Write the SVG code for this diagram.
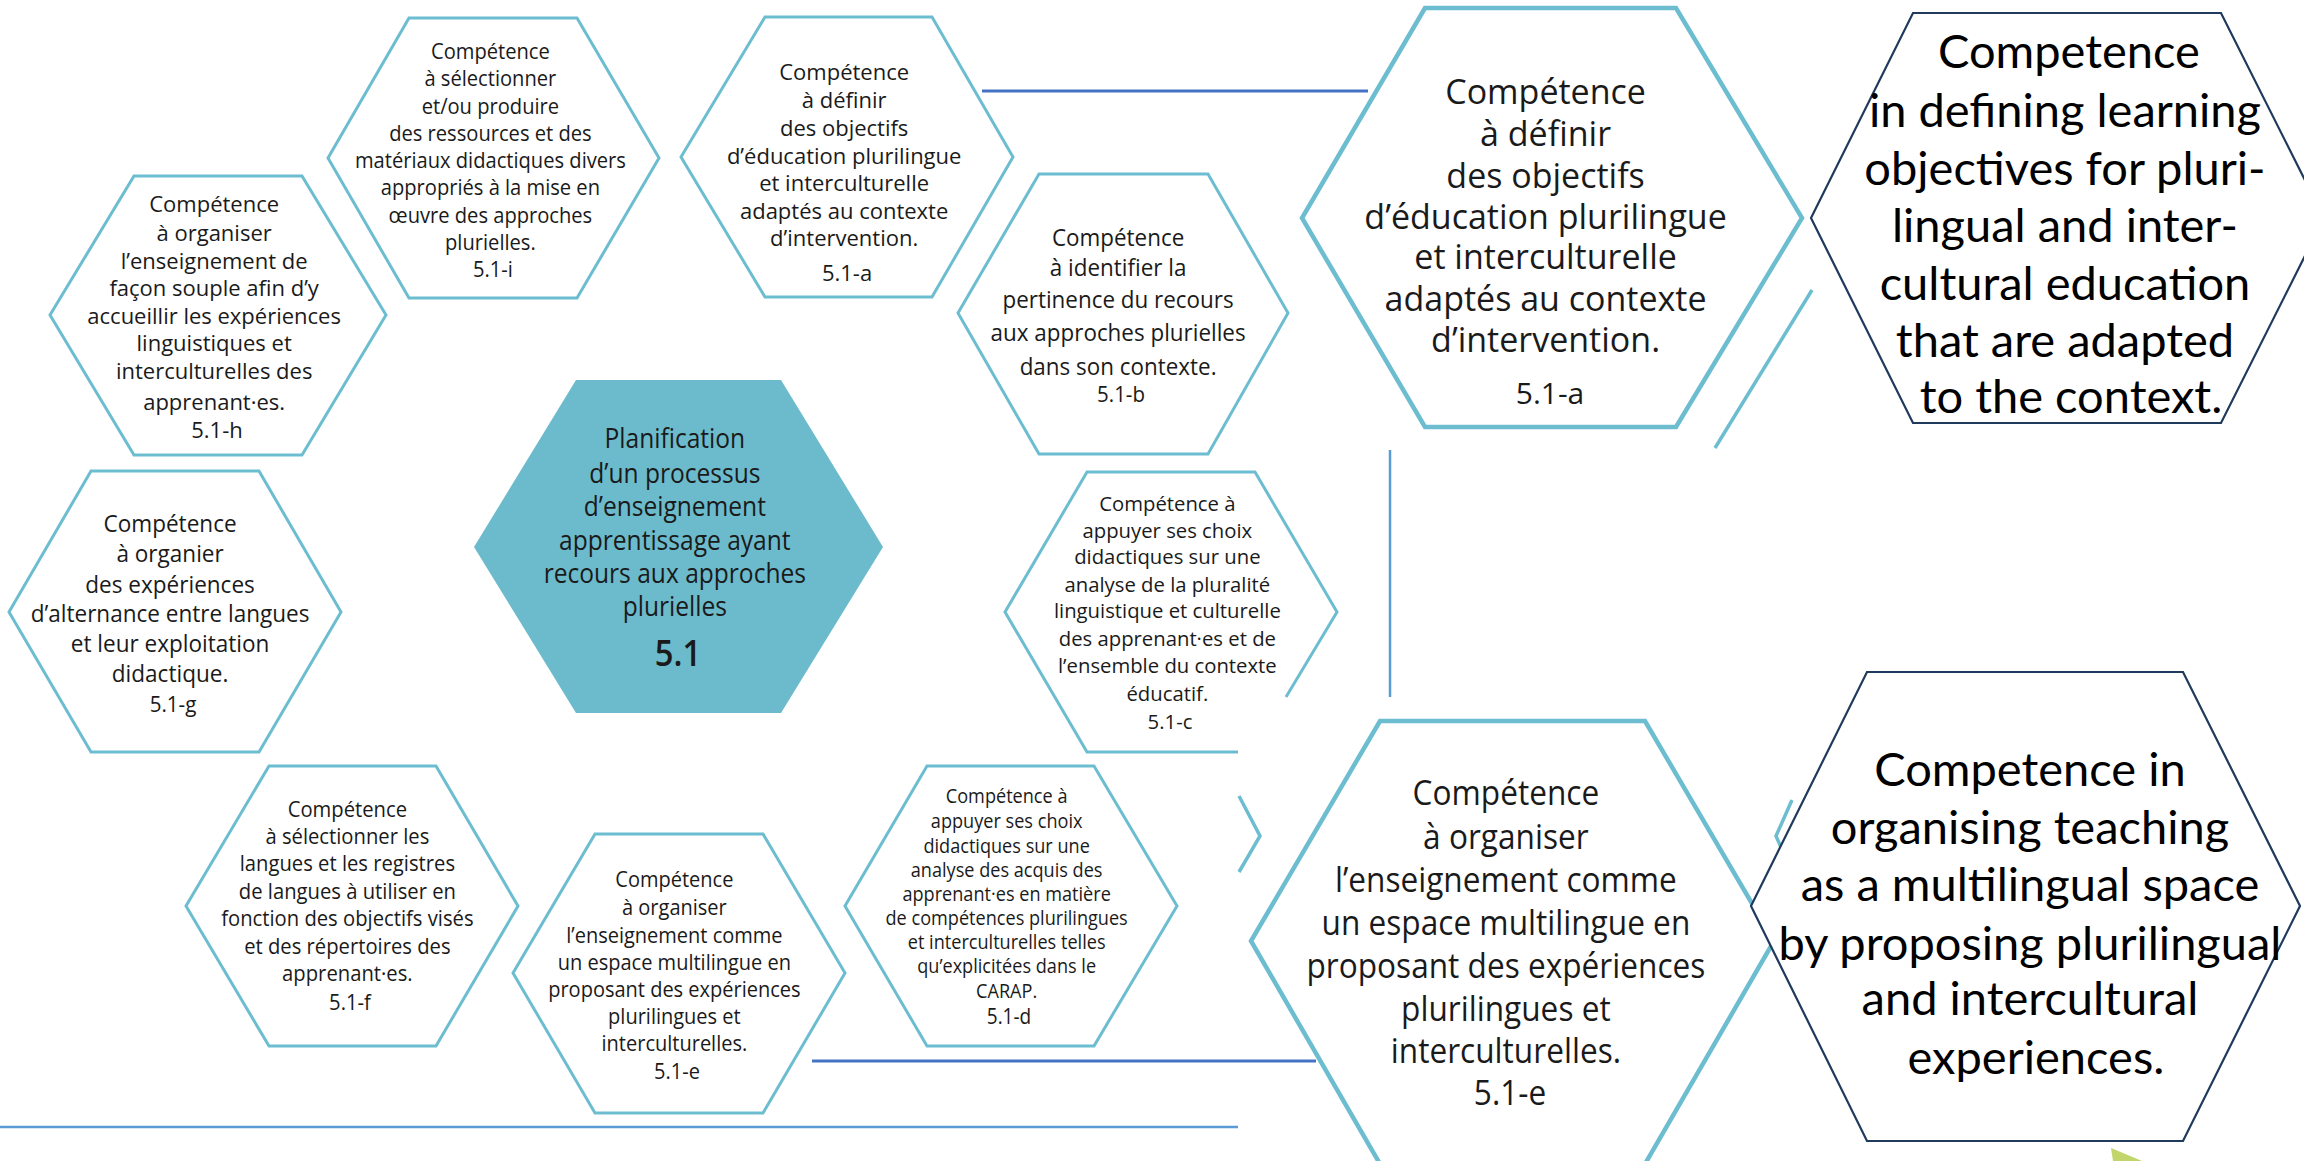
<svg xmlns="http://www.w3.org/2000/svg" width="2304" height="1161" viewBox="0 0 2304 1161">
<style>
.hex{fill:#ffffff;stroke:#6dbdd1;stroke-width:3;stroke-linejoin:miter}
.big{fill:#ffffff;stroke:#6dbdd1;stroke-width:4.5}
.core{fill:#6cbbcc;stroke:none}
.en{fill:#ffffff;stroke:#1f3a5c;stroke-width:2.2}
.frag{fill:none;stroke:#6dbdd1;stroke-width:3.5}
.fr{font-family:"Open Sans","Noto Sans","DejaVu Sans",sans-serif;fill:#1a1a1a;text-anchor:middle}
.eng{font-family:Lato,"Open Sans",sans-serif;fill:#000000;text-anchor:middle;font-size:47px}
.c1{stroke:#4472c4;stroke-width:3;fill:none}
.c2{stroke:#5b9bd5;stroke-width:2.5;fill:none}
</style>
<rect width="2304" height="1161" fill="#ffffff"/>

<g id="connectors">
<line class="c1" x1="982" y1="91" x2="1368" y2="91"/>
<line class="c2" x1="1390" y1="450" x2="1390" y2="697"/>
<line class="c1" x1="812" y1="1061" x2="1316" y2="1061"/>
<line class="c2" x1="0" y1="1127" x2="1238" y2="1127" stroke-width="3"/>
</g>

<g id="node-5-1-i">
<polygon class="hex" points="409,18 577,18 659,158 577,298 409,298 328,158"/>
<g transform="translate(493,0) scale(0.915,1)"><text class="fr" font-size="22">
<tspan x="0" y="59">Compétence</tspan>
<tspan x="0" y="86.3">à sélectionner</tspan>
<tspan x="0" y="113.6">et/ou produire</tspan>
<tspan x="0" y="140.9">des ressources et des</tspan>
<tspan x="0" y="168.2">matériaux didactiques divers</tspan>
<tspan x="0" y="195.5">appropriés à la mise en</tspan>
<tspan x="0" y="222.8">œuvre des approches</tspan>
<tspan x="0" y="250.1">plurielles.</tspan>
<tspan x="0" y="277.4">5.1-i</tspan>
</text></g>
</g>

<g id="node-5-1-a">
<polygon class="hex" points="765,17 932,17 1013,157 932,297 765,297 681,157"/>
<g transform="translate(847,0) scale(1.0,1)"><text class="fr" font-size="22">
<tspan x="0" y="80">Compétence</tspan>
<tspan x="0" y="108">à définir</tspan>
<tspan x="0" y="136">des objectifs</tspan>
<tspan x="0" y="164">d’éducation plurilingue</tspan>
<tspan x="0" y="191">et interculturelle</tspan>
<tspan x="0" y="219">adaptés au contexte</tspan>
<tspan x="0" y="246">d’intervention.</tspan>
<tspan x="0" y="281">5.1-a</tspan>
</text></g>
</g>

<g id="node-5-1-h">
<polygon class="hex" points="134,176 302,176 386,315 302,455 134,455 50,315"/>
<g transform="translate(217,0) scale(1.0,1)"><text class="fr" font-size="22">
<tspan x="0" y="212">Compétence</tspan>
<tspan x="0" y="241">à organiser</tspan>
<tspan x="0" y="269">l’enseignement de</tspan>
<tspan x="0" y="296">façon souple afin d’y</tspan>
<tspan x="0" y="324">accueillir les expériences</tspan>
<tspan x="0" y="351">linguistiques et</tspan>
<tspan x="0" y="379">interculturelles des</tspan>
<tspan x="0" y="410">apprenant·es.</tspan>
<tspan x="0" y="438">5.1-h</tspan>
</text></g>
</g>

<g id="node-5-1">
<polygon class="core" points="576,380 781,380 883,547 781,713 576,713 474,547"/>
<g transform="translate(678,0) scale(0.91,1)"><text class="fr" font-size="27">
<tspan x="0" y="448">Planification</tspan>
<tspan x="0" y="483">d’un processus</tspan>
<tspan x="0" y="516">d’enseignement</tspan>
<tspan x="0" y="550">apprentissage ayant</tspan>
<tspan x="0" y="583">recours aux approches</tspan>
<tspan x="0" y="616">plurielles</tspan>
<tspan x="0" y="666" font-size="36" font-weight="600">5.1</tspan>
</text></g>
</g>

<g id="node-5-1-g">
<polygon class="hex" points="91,471 259,471 341,612 259,752 91,752 9,612"/>
<g transform="translate(173,0) scale(0.98,1)"><text class="fr" font-size="23">
<tspan x="0" y="532">Compétence</tspan>
<tspan x="0" y="562">à organier</tspan>
<tspan x="0" y="593">des expériences</tspan>
<tspan x="0" y="622">d’alternance entre langues</tspan>
<tspan x="0" y="652">et leur exploitation</tspan>
<tspan x="0" y="682">didactique.</tspan>
<tspan x="0" y="712" font-size="21">5.1-g</tspan>
</text></g>
</g>

<g id="node-5-1-f">
<polygon class="hex" points="269,766 436,766 518,906 436,1046 269,1046 186,906"/>
<g transform="translate(350,0) scale(0.92,1)"><text class="fr" font-size="22">
<tspan x="0" y="817">Compétence</tspan>
<tspan x="0" y="844">à sélectionner les</tspan>
<tspan x="0" y="871">langues et les registres</tspan>
<tspan x="0" y="899">de langues à utiliser en</tspan>
<tspan x="0" y="926">fonction des objectifs visés</tspan>
<tspan x="0" y="954">et des répertoires des</tspan>
<tspan x="0" y="981">apprenant·es.</tspan>
<tspan x="0" y="1010">5.1-f</tspan>
</text></g>
</g>

<g id="node-5-1-e">
<polygon class="hex" points="595,834 763,834 845,973 763,1113 595,1113 513,973"/>
<g transform="translate(677,0) scale(0.91,1)"><text class="fr" font-size="22">
<tspan x="0" y="887">Compétence</tspan>
<tspan x="0" y="915">à organiser</tspan>
<tspan x="0" y="943">l’enseignement comme</tspan>
<tspan x="0" y="970">un espace multilingue en</tspan>
<tspan x="0" y="997">proposant des expériences</tspan>
<tspan x="0" y="1024">plurilingues et</tspan>
<tspan x="0" y="1051">interculturelles.</tspan>
<tspan x="0" y="1079">5.1-e</tspan>
</text></g>
</g>

<g id="node-5-1-d">
<polygon class="hex" points="927,766 1094,766 1177,906 1094,1046 927,1046 845,906"/>
<g transform="translate(1009,0) scale(0.906,1)"><text class="fr" font-size="20">
<tspan x="0" y="803">Compétence à</tspan>
<tspan x="0" y="828">appuyer ses choix</tspan>
<tspan x="0" y="853">didactiques sur une</tspan>
<tspan x="0" y="877">analyse des acquis des</tspan>
<tspan x="0" y="901">apprenant·es en matière</tspan>
<tspan x="0" y="925">de compétences plurilingues</tspan>
<tspan x="0" y="949">et interculturelles telles</tspan>
<tspan x="0" y="973">qu’explicitées dans le</tspan>
<tspan x="0" y="998">CARAP.</tspan>
<tspan x="0" y="1024" font-size="21">5.1-d</tspan>
</text></g>
</g>

<g id="node-5-1-b">
<polygon class="hex" points="1039,174 1208,174 1288,313 1208,454 1039,454 958,313"/>
<g transform="translate(1121,0) scale(0.975,1)"><text class="fr" font-size="23">
<tspan x="0" y="246">Compétence</tspan>
<tspan x="0" y="276">à identifier la</tspan>
<tspan x="0" y="308">pertinence du recours</tspan>
<tspan x="0" y="341">aux approches plurielles</tspan>
<tspan x="0" y="375">dans son contexte.</tspan>
<tspan x="0" y="402" font-size="21">5.1-b</tspan>
</text></g>
</g>

<g id="node-5-1-c">
<polyline class="hex" fill="none" points="1286,697 1337,612 1255,472 1087,472 1005,612 1087,752 1238,752"/>
<text class="fr" font-size="20.3">
<tspan x="1170" y="511">Compétence à</tspan>
<tspan x="1170" y="538">appuyer ses choix</tspan>
<tspan x="1170" y="564">didactiques sur une</tspan>
<tspan x="1170" y="592">analyse de la pluralité</tspan>
<tspan x="1170" y="618">linguistique et culturelle</tspan>
<tspan x="1170" y="646">des apprenant·es et de</tspan>
<tspan x="1170" y="673">l’ensemble du contexte</tspan>
<tspan x="1170" y="701">éducatif.</tspan>
<tspan x="1170" y="729">5.1-c</tspan>
</text>
</g>

<g id="fragments">
<polyline class="frag" points="1812,290 1715,448"/>
<polyline class="frag" points="1239,796 1260,836 1239,872"/>
<polyline class="frag" points="1792,800 1776,836 1792,872"/>
<polygon points="2111,1148 2142,1161 2113,1161" fill="#c0d66a"/>
</g>

<g id="node-5-1-a-large">
<polygon class="big" points="1425,8 1676,8 1802,218 1676,427 1425,427 1302,218"/>
<text class="fr" font-size="34">
<tspan x="1550" y="104">Compétence</tspan>
<tspan x="1550" y="146">à définir</tspan>
<tspan x="1550" y="188">des objectifs</tspan>
<tspan x="1550" y="229">d’éducation plurilingue</tspan>
<tspan x="1550" y="269">et interculturelle</tspan>
<tspan x="1550" y="311">adaptés au contexte</tspan>
<tspan x="1550" y="352">d’intervention.</tspan>
<tspan x="1550" y="404" font-size="30">5.1-a</tspan>
</text>
</g>

<g id="node-5-1-e-large">
<polygon class="big" points="1380,721 1645,721 1774,941 1645,1164 1380,1164 1251,941"/>
<g transform="translate(1510,0) scale(0.93,1)"><text class="fr" font-size="34">
<tspan x="0" y="805">Compétence</tspan>
<tspan x="0" y="849">à organiser</tspan>
<tspan x="0" y="892">l’enseignement comme</tspan>
<tspan x="0" y="935">un espace multilingue en</tspan>
<tspan x="0" y="978">proposant des expériences</tspan>
<tspan x="0" y="1021">plurilingues et</tspan>
<tspan x="0" y="1063">interculturelles.</tspan>
<tspan x="0" y="1105">5.1-e</tspan>
</text></g>
</g>

<g id="node-en-1">
<polygon class="en" points="1913,13 2221,13 2324,218 2221,423 1913,423 1811,218"/>
<text class="eng">
<tspan x="2075" y="68">Competence</tspan>
<tspan x="2071" y="127">in defining learning</tspan>
<tspan x="2071" y="185">objectives for pluri-</tspan>
<tspan x="2071" y="242">lingual and inter-</tspan>
<tspan x="2071" y="300">cultural education</tspan>
<tspan x="2071" y="357">that are adapted</tspan>
<tspan x="2071" y="413">to the context.</tspan>
</text>
</g>

<g id="node-en-2">
<polygon class="en" points="1867,672 2183,672 2300,906 2183,1141 1867,1141 1751,906"/>
<text class="eng">
<tspan x="2036" y="786">Competence in</tspan>
<tspan x="2036" y="844">organising teaching</tspan>
<tspan x="2036" y="901">as a multilingual space</tspan>
<tspan x="2036" y="960">by proposing plurilingual</tspan>
<tspan x="2036" y="1015">and intercultural</tspan>
<tspan x="2036" y="1074">experiences.</tspan>
</text>
</g>
</svg>
